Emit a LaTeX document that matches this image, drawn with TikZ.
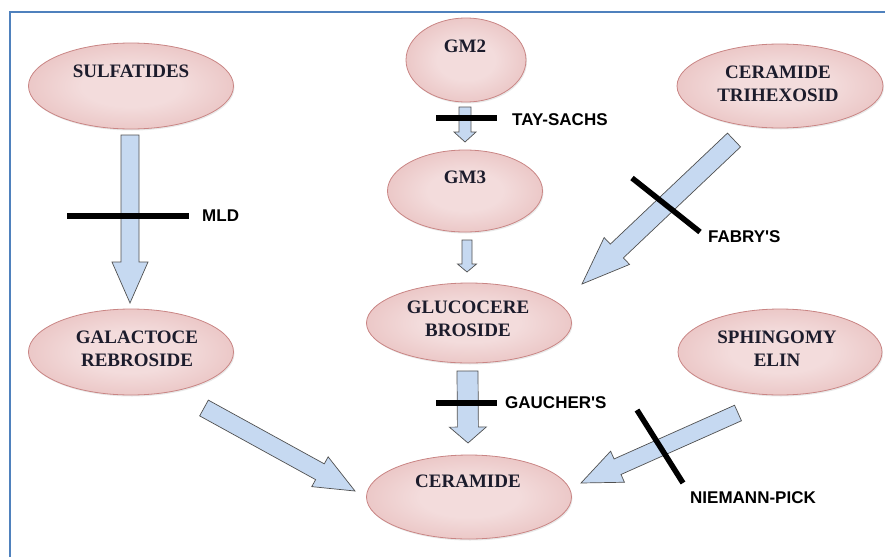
\documentclass[tikz,border=0pt]{standalone}
\usepackage{fontspec}
\setmainfont{Liberation Serif}
\setsansfont{Liberation Sans}
\usetikzlibrary{calc,shapes.geometric,shadows}

\definecolor{frameblue}{HTML}{4F81BD}
\definecolor{pinkin}{HTML}{F3DCDC}
\definecolor{pinkmid}{HTML}{E4B4B3}
\definecolor{pinkout}{HTML}{D69493}
\definecolor{pinkedge}{HTML}{C98584}
\definecolor{arrowfill}{HTML}{C6D9F1}
\definecolor{arrowedge}{HTML}{505050}
\definecolor{labelink}{HTML}{1C1C2C}

% soft pink ball: light centre, darker rim (rim reached at 50bp)
\pgfdeclareradialshading{pinkball}{\pgfpoint{0bp}{0bp}}{%
  color(0bp)=(pinkin); color(12bp)=(pinkin); color(38bp)=(pinkmid);
  color(50bp)=(pinkout); color(100bp)=(pinkout)}

\tikzset{
  compound/.style={ellipse, draw=pinkedge, line width=0.8pt, inner sep=0pt,
    shading=pinkball,
    drop shadow={opacity=0.18, shadow xshift=1pt, shadow yshift=-1.5pt}},
  ctext/.style={font=\fontsize{19}{23}\selectfont\bfseries, text=labelink,
    align=center, inner sep=0pt},
  dtext/.style={font=\sffamily\bfseries\fontsize{17}{20}\selectfont,
    anchor=west, inner sep=0pt},
  barrow/.style={fill=arrowfill, draw=arrowedge, line width=0.7pt, line join=miter},
  blocked/.style={line width=5.5pt, black},
}

% block arrow: #1 tail, #2 tip, #3 shaft half width, #4 head half width, #5 head length
\newcommand\blockarrow[5]{%
  \path ($(#2)!#5!(#1)$) coordinate (hb);
  \draw[barrow] ($(#1)!#3!90:(#2)$) -- ($(hb)!#3!90:(#2)$) -- ($(hb)!#4!90:(#2)$)
    -- (#2) -- ($(hb)!#4!-90:(#2)$) -- ($(hb)!#3!-90:(#2)$) -- ($(#1)!#3!-90:(#2)$) -- cycle;
}

\begin{document}
\begin{tikzpicture}[x=1pt,y=-1pt]
\useasboundingbox (0,0) rectangle (885,557);

% page frame
\draw[frameblue, line width=2.5pt] (10,557) -- (10,12) -- (885,12);

% compounds
\node[compound, minimum width=205pt, minimum height=86pt] (sulf)   at (131,86)  {};
\node[compound, minimum width=120pt, minimum height=84pt] (gm2)    at (466,60)  {};
\node[compound, minimum width=155pt, minimum height=82pt] (gm3)    at (465,191) {};
\node[compound, minimum width=205pt, minimum height=80pt] (gluc)   at (469,323) {};
\node[compound, minimum width=205pt, minimum height=84pt] (cer)    at (469,497) {};
\node[compound, minimum width=205pt, minimum height=86pt] (galc)   at (131,352) {};
\node[compound, minimum width=206pt, minimum height=84pt] (trihex) at (780,86)  {};
\node[compound, minimum width=204pt, minimum height=86pt] (sphm)   at (780,352) {};

\node[ctext] (sulf-t)   at (131,71)    {SULFATIDES};
\node[ctext] (gm2-t)    at (465,46)    {GM2};
\node[ctext] (gm3-t)    at (465,177)   {GM3};
\node[ctext] (gluc-t)   at (468,318.5) {GLUCOCERE\\BROSIDE};
\node[ctext] (cer-t)    at (468,481)   {CERAMIDE};
\node[ctext] (galc-t)   at (137,348.5) {GALACTOCE\\REBROSIDE};
\node[ctext] (trihex-t) at (778,83.5)  {CERAMIDE\\TRIHEXOSID};
\node[ctext] (sphm-t)   at (777,348.5) {SPHINGOMY\\ELIN};

% arrow end points
\coordinate (a1t) at (130,135);   \coordinate (a1h) at (130,303);
\coordinate (a2t) at (465,107);   \coordinate (a2h) at (465,142);
\coordinate (a3t) at (467,240);   \coordinate (a3h) at (467,272);
\coordinate (a4t) at (467.5,371); \coordinate (a4h) at (468,443);
\coordinate (a5t) at (204,408);   \coordinate (a5h) at (355,491);
\coordinate (a6t) at (734,140);   \coordinate (a6h) at (582,284);
\coordinate (a7t) at (738,413);   \coordinate (a7h) at (581,483);

% metabolic steps
\blockarrow{a1t}{a1h}{9pt}{18pt}{41pt}
\blockarrow{a2t}{a2h}{6pt}{11pt}{10pt}
\blockarrow{a3t}{a3h}{5pt}{9.5pt}{8pt}
\blockarrow{a4t}{a4h}{10.5pt}{18.5pt}{16pt}
\blockarrow{a5t}{a5h}{9pt}{17pt}{40pt}
\blockarrow{a6t}{a6h}{9.5pt}{18.5pt}{48pt}
\blockarrow{a7t}{a7h}{8.5pt}{17pt}{40pt}

% enzyme defects
\coordinate (b1a) at (67,216);  \coordinate (b1b) at (189,216);
\coordinate (b2a) at (436,118); \coordinate (b2b) at (497,118);
\coordinate (b4a) at (436,403); \coordinate (b4b) at (497,403);
\coordinate (b6a) at (632,178); \coordinate (b6b) at (700,232);
\coordinate (b7a) at (637,410); \coordinate (b7b) at (683,483);
\draw[blocked] (b1a) -- (b1b);
\draw[blocked] (b2a) -- (b2b);
\draw[blocked] (b4a) -- (b4b);
\draw[blocked] (b6a) -- (b6b);
\draw[blocked] (b7a) -- (b7b);

\node[dtext] (mld)  at (202,216) {MLD};
\node[dtext] (tay)  at (512,120) {TAY-SACHS};
\node[dtext] (fab)  at (708,237) {FABRY\textquotesingle S};
\node[dtext] (gau)  at (505,403) {GAUCHER\textquotesingle S};
\node[dtext] (npk)  at (690,498) {NIEMANN-PICK};
\end{tikzpicture}
\end{document}
